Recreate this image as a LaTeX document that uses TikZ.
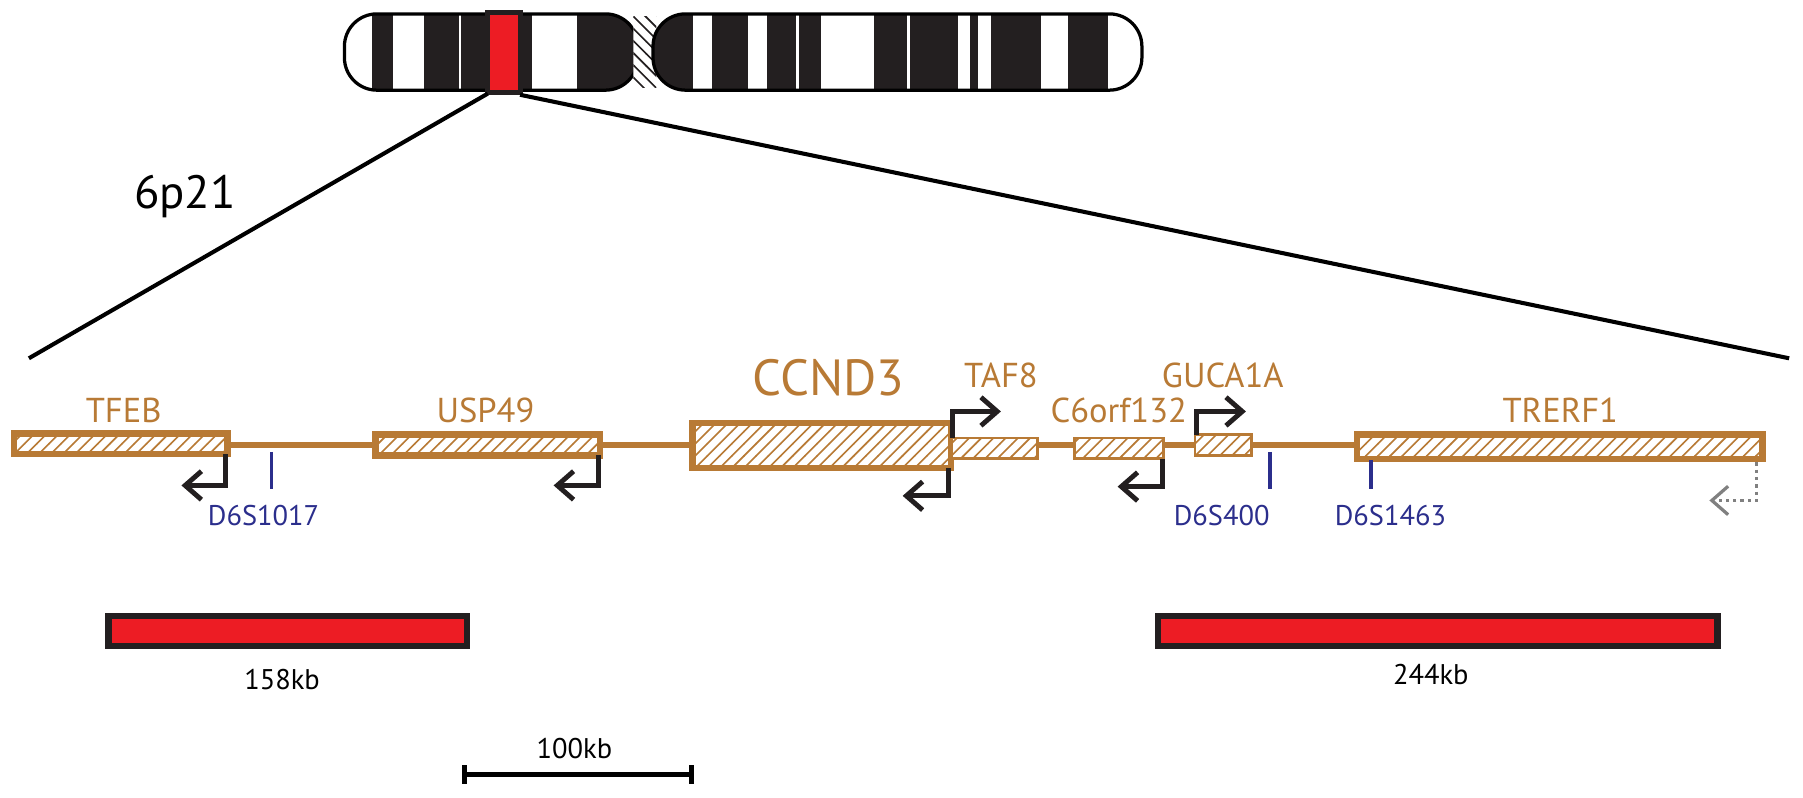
\documentclass[tikz,border=0pt]{standalone}
\usepackage{fontspec}
\setmainfont{PT Sans}
\usetikzlibrary{patterns,arrows.meta}
\definecolor{gene}{HTML}{B87A35}
\definecolor{mk}{HTML}{2B2E8C}
\definecolor{band}{HTML}{231F20}
\definecolor{hl}{HTML}{ED1C24}
\begin{document}
\begin{tikzpicture}[x=0.01cm,y=-0.01cm,
  box/.style={draw=gene,line width=1.6pt,pattern=north east lines,pattern color=gene,preaction={fill=white}},
  thin box/.style={box,line width=0.7pt},
  gl/.style={text=gene,font=\fontsize{8.5}{9}\selectfont,inner sep=0},
  ml/.style={text=mk,font=\fontsize{7}{8}\selectfont,inner sep=0},
  tick/.style={draw=mk,line width=0.9pt},
  tss/.style={draw=band,line width=1.2pt,-{Straight Barb[length=4pt,width=7pt]}},
  kb/.style={font=\fontsize{7}{8}\selectfont,inner sep=0}]
\useasboundingbox (0,0) rectangle (1560,690);
% chromosome
\begin{scope}
\clip[rounded corners=8] (298,12) rectangle (552,78);
\fill[white] (298,12) rectangle (552,78);
\foreach \a/\b in {322/340,367/397,399/421,450/460,499/552}
  \fill[band] (\a,12) rectangle (\b,78);
\end{scope}
\draw[line width=0.8pt,rounded corners=8] (298,12) rectangle (552,78);
\fill[hl,draw=band,line width=1.2pt] (422,11) rectangle (450,80);
\begin{scope}
\clip (548,14) rectangle (568,76);
\fill[white] (548,12) rectangle (568,78);
\fill[pattern=north west lines,pattern color=band] (548,12) rectangle (568,78);
\end{scope}
\begin{scope}
\clip[rounded corners=8] (565,12) rectangle (988,78);
\fill[white] (565,12) rectangle (988,78);
\foreach \a/\b in {565/600,616/647,664/689,691/710,756/785,787/829,839/846,857/901,924/959}
  \fill[band] (\a,12) rectangle (\b,78);
\end{scope}
\draw[line width=0.8pt,rounded corners=8] (565,12) rectangle (988,78);
\coordinate (zl) at (422,81); \coordinate (zr) at (450,82);
\coordinate (el) at (25,310); \coordinate (er) at (1548,310);
\draw[line width=1pt] (zl) -- (el);
\draw[line width=1pt] (zr) -- (er);
\node[font=\fontsize{11.5}{12}\selectfont,inner sep=0] (p) at (160,170) {6p21};
% backbone
\draw[gene,line width=1.6pt] (197,385) -- (1173,385);
\path[box] (12,375) rectangle (197,393);
\path[box] (325,376) rectangle (519,394);
\path[box] (599,366) rectangle (823,405);
\path[thin box] (823,379) rectangle (898,397);
\path[thin box] (930,379) rectangle (1007,397);
\path[thin box] (1034,376) rectangle (1083,394);
\path[box] (1174,376) rectangle (1525,397);
\node[gl] (tfeb) at (107,355) {TFEB};
\node[gl] (usp) at (420,355) {USP49};
\node[gl,font=\fontsize{12.5}{13}\selectfont] (ccnd) at (717,327) {CCND3};
\node[gl] (taf) at (866,325) {TAF8};
\node[gl] (c6) at (968,355) {C6orf132};
\node[gl] (guca) at (1058,325) {GUCA1A};
\node[gl] (trerf) at (1350,355) {TRERF1};
% TSS arrows
\draw[tss] (195,393) -- (195,420) -- (157,420);
\draw[tss] (518,394) -- (518,420) -- (479,420);
\draw[tss] (821,405) -- (821,429) -- (781,429);
\draw[tss] (824,379) -- (824,356) -- (866,356);
\draw[tss] (1006,397) -- (1006,421) -- (967,421);
\draw[tss] (1035,376) -- (1035,356) -- (1078,356);
\draw[gray,densely dotted,line width=0.8pt,-{Straight Barb[length=4pt,width=7pt]}] (1520,400) -- (1520,433) -- (1479,433);
% markers
\draw[tick] (235,391) -- (235,423);
\draw[tick] (1099,391) -- (1099,423);
\draw[tick] (1186,398) -- (1186,423);
\node[ml] (m1) at (228,446) {D6S1017};
\node[ml] (m2) at (1057,446) {D6S400};
\node[ml] (m3) at (1203,446) {D6S1463};
% red bars
\fill[hl,draw=band,line width=1.6pt] (94,533) rectangle (404,559);
\fill[hl,draw=band,line width=1.6pt] (1002,533) rectangle (1486,559);
\node[kb] (k1) at (244,588) {158kb};
\node[kb] (k2) at (1238,584) {244kb};
% scale bar
\coordinate (s1) at (402,670); \coordinate (s2) at (598,670);
\draw[line width=1.2pt] (s1) -- (s2);
\draw[line width=1.2pt] (402,662) -- (402,678) (598,662) -- (598,678);
\node[kb] (k3) at (497,648) {100kb};
\end{tikzpicture}
\end{document}
